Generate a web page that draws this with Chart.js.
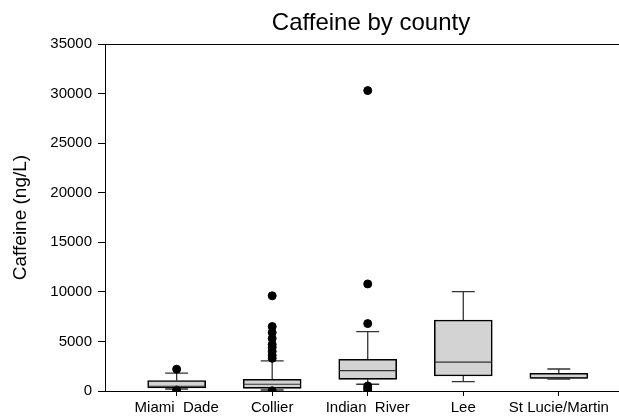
<!DOCTYPE html>
<html>
<head>
<meta charset="utf-8">
<title>Caffeine by county</title>
<script src="https://cdn.jsdelivr.net/npm/chart.js@4/dist/chart.umd.min.js"></script>
<style>
  body { margin: 0; background: #fff; }
  #wrap { width: 619px; height: 419px; }
</style>
</head>
<body>
<div id="wrap"><canvas id="boxChart" width="619" height="419"></canvas></div>
<script>
// Box plot values (ng/L)
const counties = ['Miami  Dade', 'Collier', 'Indian  River', 'Lee', 'St Lucie/Martin'];
const whiskerLow = [200, 100, 680, 940, 1200];
const q1 = [300, 270, 1180, 1510, 1280];
const medians = [480, 680, 2050, 2920, 1330];
const q3 = [1050, 1180, 3200, 7160, 1780];
const whiskerHigh = [1800, 3030, 5980, 10020, 2220];
const outliers = [
  [2200, 100],
  [9600, 6500, 5900, 5300, 4700, 4400, 4000, 3600, 3300, 20],
  [30300, 10800, 6800, 500, 300, 100],
  [],
  []
];
const yTicks = [0, 5000, 10000, 15000, 20000, 25000, 30000, 35000];

const FONT = "'Liberation Sans', Arial, sans-serif";

// whiskers, caps and median lines, placed through the chart scales
const boxExtras = {
  id: 'boxExtras',
  beforeDatasetsDraw(chart) {
    const { ctx, scales: { x, y } } = chart;
    ctx.save();
    ctx.strokeStyle = '#333';
    ctx.lineWidth = 1.3;
    counties.forEach((c, i) => {
      const cx = x.getPixelForValue(i + 1);
      const half = (x.getPixelForValue(i + 1.12) - x.getPixelForValue(i + 0.88)) / 2;
      const top = y.getPixelForValue(whiskerHigh[i]);
      const bot = y.getPixelForValue(whiskerLow[i]);
      ctx.beginPath();
      ctx.moveTo(cx, y.getPixelForValue(q3[i]));
      ctx.lineTo(cx, top);
      ctx.moveTo(cx - half, top);
      ctx.lineTo(cx + half, top);
      ctx.moveTo(cx, y.getPixelForValue(q1[i]));
      ctx.lineTo(cx, bot);
      ctx.moveTo(cx - half, bot);
      ctx.lineTo(cx + half, bot);
      ctx.stroke();
    });
    ctx.restore();
  },
  afterDatasetsDraw(chart) {
    const { ctx, scales: { x, y } } = chart;
    ctx.save();
    ctx.strokeStyle = '#333';
    ctx.lineWidth = 1.2;
    counties.forEach((c, i) => {
      const my = y.getPixelForValue(medians[i]);
      ctx.beginPath();
      ctx.moveTo(x.getPixelForValue(i + 0.7), my);
      ctx.lineTo(x.getPixelForValue(i + 1.3), my);
      ctx.stroke();
    });
    ctx.restore();
  },
  afterDraw(chart) {
    const { ctx, chartArea } = chart;
    ctx.save();
    // top frame line
    ctx.strokeStyle = '#000';
    ctx.lineWidth = 1;
    ctx.beginPath();
    ctx.moveTo(chartArea.left, chartArea.top + 0.5);
    ctx.lineTo(chartArea.right, chartArea.top + 0.5);
    ctx.stroke();
    // chart title
    ctx.fillStyle = '#000';
    ctx.font = '24px ' + FONT;
    ctx.textAlign = 'center';
    ctx.textBaseline = 'middle';
    ctx.fillText('Caffeine by county', 371, 23);
    ctx.restore();
  }
};

const boxData = counties.map((c, i) => ({ x: i + 1, y: [q1[i], q3[i]] }));
const outlierData = [];
outliers.forEach((list, i) => list.forEach(v => outlierData.push({ x: i + 1, y: v })));

new Chart(document.getElementById('boxChart'), {
  type: 'bar',
  data: {
    datasets: [
      {
        type: 'bar',
        data: boxData,
        backgroundColor: '#d3d3d3',
        borderColor: '#000',
        borderWidth: 1.6,
        borderSkipped: false,
        barThickness: 58,
        order: 2
      },
      {
        type: 'scatter',
        data: outlierData,
        backgroundColor: '#000',
        borderColor: '#000',
        pointRadius: 4,
        order: 1
      }
    ]
  },
  options: {
    responsive: false,
    animation: false,
    layout: { autoPadding: false, padding: { top: 44, right: 0, left: 0, bottom: 0 } },
    plugins: {
      legend: { display: false },
      tooltip: { enabled: false }
    },
    scales: {
      x: {
        type: 'linear',
        offset: false,
        min: 0.25,
        max: 5.63,
        afterFit(scale) {
          scale.height = 28;
          scale.paddingLeft = 0;
          scale.paddingRight = 0;
        },
        afterBuildTicks(scale) { scale.ticks = counties.map((c, i) => ({ value: i + 1 })); },
        ticks: {
          autoSkip: false,
          maxRotation: 0,
          color: '#000',
          padding: 3,
          font: { family: FONT, size: 15 },
          callback: v => counties[v - 1] ?? ''
        },
        grid: { offset: false, drawOnChartArea: false, drawTicks: true, tickLength: 5, color: '#000' },
        border: { display: true, color: '#000', width: 1 }
      },
      y: {
        min: 0,
        max: 35000,
        afterFit(scale) {
          scale.width = 105;
          scale.paddingTop = 0;
          scale.paddingBottom = 0;
        },
        afterBuildTicks(scale) { scale.ticks = yTicks.map(v => ({ value: v })); },
        ticks: {
          color: '#000',
          padding: 6,
          font: { family: FONT, size: 15 },
          callback: v => String(v)
        },
        grid: { drawOnChartArea: false, drawTicks: true, tickLength: 7, color: '#000' },
        border: { display: true, color: '#000', width: 1 },
        title: {
          display: true,
          text: 'Caffeine (ng/L)',
          color: '#000',
          padding: { top: 9, bottom: 0 },
          font: { family: FONT, size: 19 }
        }
      }
    }
  },
  plugins: [boxExtras]
});
</script>
</body>
</html>
